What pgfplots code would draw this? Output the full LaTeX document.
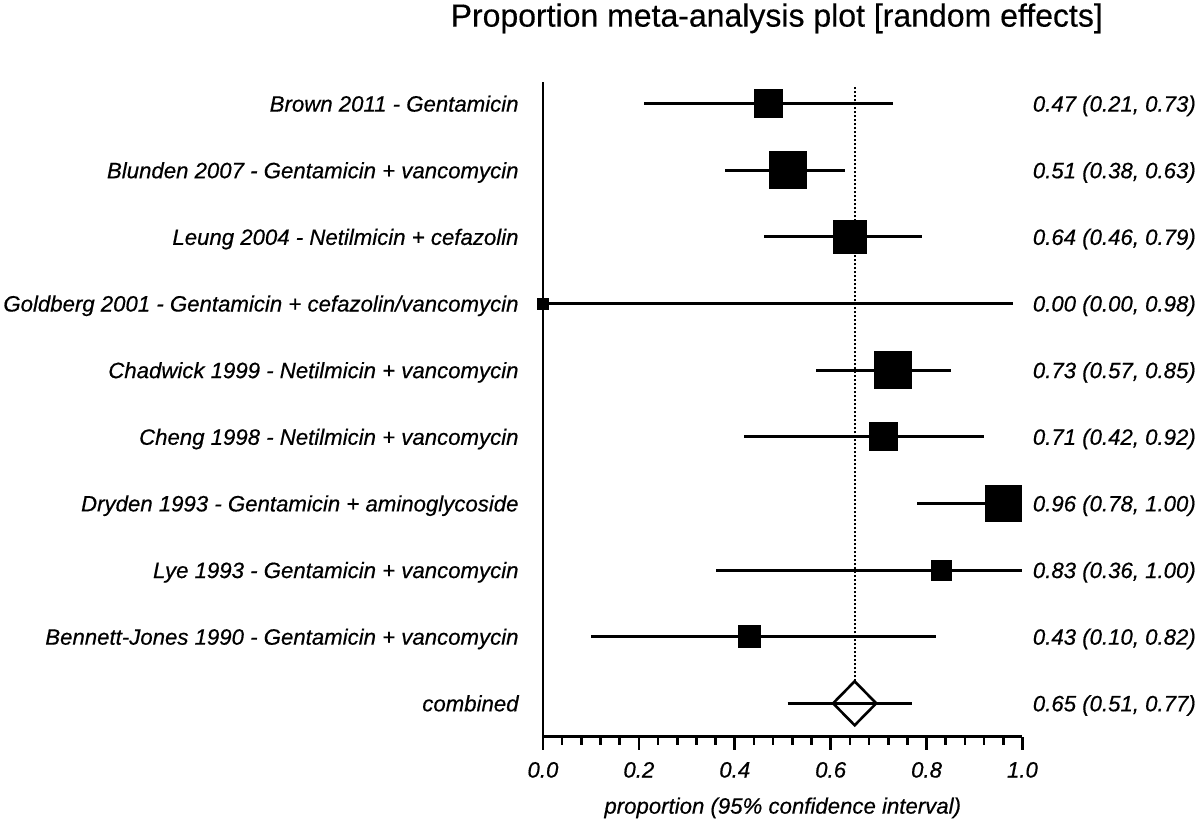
\documentclass[border=0pt]{standalone}
\usepackage{fontspec}
\setmainfont{Liberation Sans}
\usepackage{pgfplots}
\pgfplotsset{compat=1.18}
\usepackage{pgfplotstable}

\pgfplotstableread{
y est lo hi s
9 0.47 0.21 0.73 7.1
8 0.51 0.38 0.63 9.3
7 0.64 0.46 0.79 8.3
6 0.00 0.00 0.98 2.8
5 0.73 0.57 0.85 9.2
4 0.71 0.42 0.92 7.0
3 0.96 0.78 1.00 9.0
2 0.83 0.36 1.00 5.0
1 0.43 0.10 0.82 5.5
}\studies

\newcommand{\lab}{\itshape\fontsize{11.1}{13}\selectfont\addfontfeature{FakeBold=0.5}}

\begin{document}
\begin{tikzpicture}
\begin{axis}[
  scale only axis, width=239.75pt, height=327.5pt,
  xmin=0, xmax=1, ymin=-0.5, ymax=9.33,
  axis x line*=bottom, axis y line*=left,
  axis line style={line width=1.4pt},
  clip=false,
  xtick={0,0.2,0.4,0.6,0.8,1}, minor x tick num=4,
  tick align=outside,
  major tick length=6.5pt, minor tick length=4pt,
  every tick/.style={black, line width=1.3pt},
  x tick label style={font=\lab, anchor=north, inner sep=0pt, yshift=-6pt},
  xticklabel style={/pgf/number format/.cd, fixed, fixed zerofill, precision=1, assume math mode=true},
  ytick={0,1,2,3,4,5,6,7,8,9},
  yticklabels={combined,
    Bennett-Jones 1990 - Gentamicin + vancomycin,
    Lye 1993 - Gentamicin + vancomycin,
    Dryden 1993 - Gentamicin + aminoglycoside,
    Cheng 1998 - Netilmicin + vancomycin,
    Chadwick 1999 - Netilmicin + vancomycin,
    Goldberg 2001 - Gentamicin + cefazolin/vancomycin,
    Leung 2004 - Netilmicin + cefazolin,
    Blunden 2007 - Gentamicin + vancomycin,
    Brown 2011 - Gentamicin},
  ytick style={draw=none},
  y tick label style={font=\lab, anchor=base east, inner sep=0pt, xshift=-5.5pt, yshift=-4pt},
  xlabel={proportion (95\% confidence interval)},
  xlabel style={font=\lab, at={(axis description cs:0.5,0)}, anchor=base, inner sep=0pt, yshift=-38.5pt},
]
% invisible frame for page size
\path (axis cs:-1.1324,-1.775) rectangle (axis cs:1.3702,10.555);

% reference line
\addplot[black, line width=1pt, densely dotted] coordinates {(0.65,0.33) (0.65,9.25)};

% confidence intervals
\addplot[black, only marks, mark=none, line width=1.5pt,
  error bars/.cd, x dir=both, x explicit, error mark=none,
  error bar style={line width=1.5pt}]
  table[x=est, y=y, x error plus expr=\thisrow{hi}-\thisrow{est}, x error minus expr=\thisrow{est}-\thisrow{lo}] {\studies};

% study squares
\addplot[only marks, mark=square*, black,
  scatter, scatter/use mapped color={draw=black, fill=black},
  visualization depends on={\thisrow{s} \as \msz},
  scatter/@pre marker code/.append style={/tikz/mark size=\msz pt, /tikz/line width=0pt}]
  table[x=est, y=y] {\studies};

% combined estimate
\addplot[black, line width=1.5pt] coordinates {(0.51,0) (0.77,0)};
\addplot[black, line width=1.3pt] coordinates {(0.605,0) (0.65,0.33) (0.695,0) (0.65,-0.33) (0.605,0)} -- cycle;

% right-hand labels
\begin{scope}[every node/.style={anchor=base west, inner sep=0pt, font=\lab, xshift=5pt, yshift=-4pt}]
\node at (axis cs:1,9) {0.47 (0.21, 0.73)};
\node at (axis cs:1,8) {0.51 (0.38, 0.63)};
\node at (axis cs:1,7) {0.64 (0.46, 0.79)};
\node at (axis cs:1,6) {0.00 (0.00, 0.98)};
\node at (axis cs:1,5) {0.73 (0.57, 0.85)};
\node at (axis cs:1,4) {0.71 (0.42, 0.92)};
\node at (axis cs:1,3) {0.96 (0.78, 1.00)};
\node at (axis cs:1,2) {0.83 (0.36, 1.00)};
\node at (axis cs:1,1) {0.43 (0.10, 0.82)};
\node at (axis cs:1,0) {0.65 (0.51, 0.77)};
\end{scope}

% title
\node[anchor=base, inner sep=0pt, font=\fontsize{16}{19}\selectfont\addfontfeature{FakeBold=0.4}, xshift=-3pt, yshift=27.5pt]
  at (axis description cs:0.5,1) {Proportion meta-analysis plot [random effects]};
\end{axis}
\end{tikzpicture}
\end{document}
